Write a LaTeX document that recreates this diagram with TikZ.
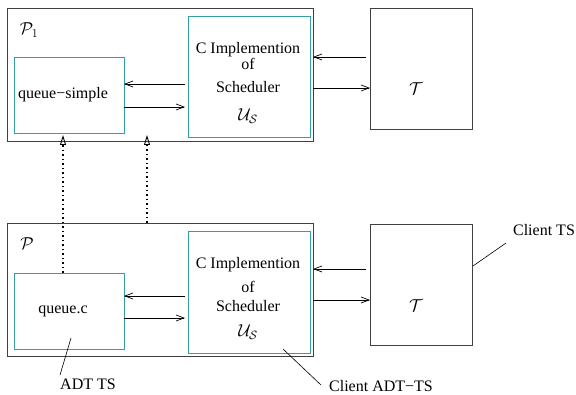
\documentclass[tikz,border=0pt]{standalone}
\usepackage{fontspec}
\setmainfont{Liberation Serif}
\usetikzlibrary{arrows.meta}
\definecolor{boxteal}{RGB}{50,160,160}
\begin{document}
\begin{tikzpicture}[x=1pt,y=-1pt,
  font=\fontsize{16}{19}\selectfont,
  outerbox/.style={draw=black!75, line width=0.9pt, inner sep=0pt, outer sep=0pt, anchor=north west},
  innerbox/.style={draw=boxteal, line width=0.9pt, inner sep=0pt, outer sep=0pt, anchor=north west},
  arr/.style={-{Straight Barb[length=8pt,width=6pt]}, line width=0.7pt},
  dotarr/.style={-{Triangle[open,length=10pt,width=6pt,line width=0.9pt]}, line width=1.5pt, dash pattern=on 1.5pt off 3pt},
  lbl/.style={inner sep=0pt},
  mth/.style={inner sep=0pt, font=\fontsize{18}{21}\selectfont},
  leader/.style={line width=0.6pt}]
\useasboundingbox (0,0) rectangle (576,395);
% top group
\node[outerbox, minimum width=306pt, minimum height=133pt] (P1) at (7,8) {};
\node[innerbox, minimum width=110pt, minimum height=76pt] (qs) at (14,57) {};
\node[innerbox, minimum width=122pt, minimum height=121pt] (S1) at (188,16) {};
\node[outerbox, minimum width=102pt, minimum height=121pt] (T1) at (370,8) {};
% bottom group
\node[outerbox, minimum width=306pt, minimum height=133pt] (P) at (7,223) {};
\node[innerbox, minimum width=110pt, minimum height=76pt] (qc) at (14,273) {};
\node[innerbox, minimum width=122pt, minimum height=122pt] (S2) at (188,231) {};
\node[outerbox, minimum width=102pt, minimum height=121pt] (T2) at (370,224) {};
% texts top
\node[mth] (tP1) at (29,30) {$\mathcal{P}_{1}$};
\node[lbl] (tqs) at (63,95) {queue−simple};
\node[lbl] (tS1a) at (248,50) {C Implemention};
\node[lbl] (tS1b) at (248,64) {of};
\node[lbl] (tS1c) at (248,87) {Scheduler};
\node[mth] (tS1d) at (248,116) {$\mathcal{U}_{\mathcal{S}}$};
\node[mth] (tT1) at (416,89) {$\mathcal{T}$};
% texts bottom
\node[mth] (tP) at (27,244) {$\mathcal{P}$};
\node[lbl] (tqc) at (63,311) {queue.c};
\node[lbl] (tS2a) at (248,265) {C Implemention};
\node[lbl] (tS2b) at (248,287) {of};
\node[lbl] (tS2c) at (248,306) {Scheduler};
\node[mth] (tS2d) at (248,332) {$\mathcal{U}_{\mathcal{S}}$};
\node[mth] (tT2) at (416,306) {$\mathcal{T}$};
% outside labels
\node[lbl] (adt) at (88,384) {ADT TS};
\node[lbl] (cadt) at (381,386) {Client ADT−TS};
\node[lbl] (cts) at (544,230) {Client TS};
% y levels
\coordinate (l1) at (0,84);
\coordinate (l2) at (0,107);
\coordinate (l3) at (0,57);
\coordinate (l4) at (0,88);
\coordinate (m1) at (0,296);
\coordinate (m2) at (0,318);
\coordinate (m3) at (0,269);
\coordinate (m4) at (0,300);
% arrows top
\draw[arr, shorten <=3pt] (S1.west |- l1) -- (qs.east |- l1);
\draw[arr, shorten >=3pt] (qs.east |- l2) -- (S1.west |- l2);
\draw[arr, shorten <=4pt] (T1.west |- l3) -- (P1.east |- l3);
\draw[arr] (P1.east |- l4) -- (T1.west |- l4);
% arrows bottom
\draw[arr, shorten <=3pt] (S2.west |- m1) -- (qc.east |- m1);
\draw[arr, shorten >=3pt] (qc.east |- m2) -- (S2.west |- m2);
\draw[arr, shorten <=4pt] (T2.west |- m3) -- (P.east |- m3);
\draw[arr] (P.east |- m4) -- (T2.west |- m4);
% dotted arrows
\coordinate (d1) at (63,0);
\coordinate (d2) at (147,0);
\draw[dotarr, shorten >=-6pt] (qc.north -| d1) -- (P1.south -| d1);
\draw[dotarr, shorten >=-6pt] (P.north -| d2) -- (P1.south -| d2);
% leaders
\coordinate (adtA) at (71,338);
\coordinate (adtB) at (60,375);
\draw[leader] (adtA) -- (adtB);
\coordinate (cadtA) at (283,349);
\coordinate (cadtB) at (321,385);
\draw[leader] (cadtA) -- (cadtB);
\coordinate (ctsA) at (473,266);
\coordinate (ctsB) at (506,243);
\draw[leader] (ctsA) -- (ctsB);
\end{tikzpicture}
\end{document}
